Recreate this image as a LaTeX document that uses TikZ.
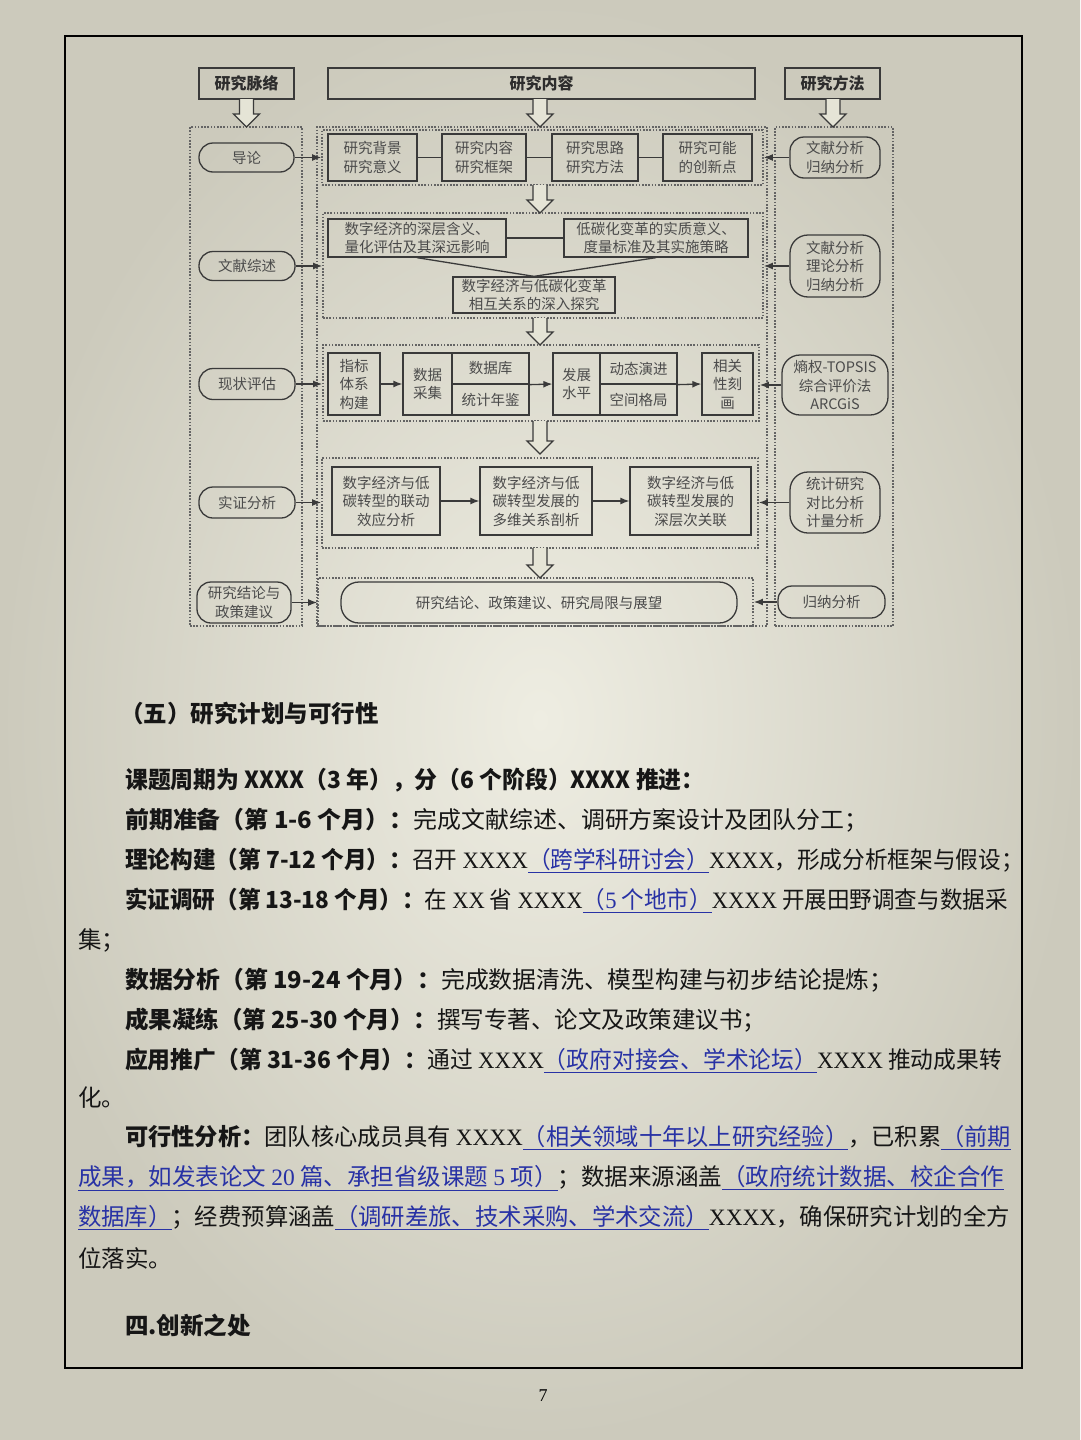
\documentclass[tikz,border=0pt]{standalone}
\usepackage{fontspec}
\usepackage{graphicx}
\setmainfont{Noto Sans CJK SC}
\newfontfamily\lat{Liberation Serif}
\usetikzlibrary{arrows.meta}
\definecolor{pagebg}{RGB}{229,228,214}
\definecolor{pagein}{RGB}{238,237,226}
\definecolor{pageout}{RGB}{204,202,188}
\definecolor{ink}{RGB}{58,58,58}
\definecolor{txtg}{RGB}{75,75,75}
\definecolor{dotc}{RGB}{100,100,100}
\definecolor{linkblue}{RGB}{40,50,165}
\definecolor{bodyc}{RGB}{22,22,22}
\newcommand\ulb[1]{\textcolor{linkblue}{\underline{#1}}}
\newcommand\lx[1]{{\lat #1}}
\newcommand\sx[2]{\scalebox{#1}[1]{#2}}
\begin{document}
\begin{tikzpicture}[x=1pt,y=-1pt,
  box/.style={draw=ink, line width=1.3pt, inner sep=1pt, align=center, text=txtg, font=\fontsize{14.5}{18.5}\selectfont},
  rnd/.style={box, rounded corners=14pt},
  hdr/.style={draw=ink, line width=1.5pt, inner sep=1pt, align=center, text={rgb,255:red,45;green,45;blue,45}, font=\bfseries\fontsize{16}{19}\selectfont},
  grp/.style={draw=dotc, line width=1.8pt, dash pattern=on 1.6pt off 1.6pt, inner sep=0pt},
  conn/.style={draw=ink, line width=1.3pt},
  arr/.style={conn, -{Latex[length=9pt,width=7pt]}},
  hollow/.style={draw=ink, line width=1.3pt, fill=pagebg},
  pics/harrow/.style={code={\draw[hollow] (-7,0) -- (-7,#1-13) -- (-13,#1-13) -- (0,#1) -- (13,#1-13) -- (7,#1-13) -- (7,0);}},
  bodyline/.style={anchor=west, inner sep=0pt, text=bodyc, font=\fontsize{23.5}{28}\selectfont}
]
\useasboundingbox (0,0) rectangle (1080,1440);
\shade[inner color=pagein, outer color=pageout] (0,0) rectangle (1080,1440);
\draw[line width=2pt, draw=black] (65,36) rectangle (1022,1368);

% headers
\node[hdr, minimum width=95, minimum height=31] (hL) at (246.5,83.5) {研究脉络};
\node[hdr, minimum width=427, minimum height=31] (hM) at (541.5,83.5) {研究内容};
\node[hdr, minimum width=95, minimum height=31] (hR) at (832.5,83.5) {研究方法};

% containers
\node[grp, minimum width=112, minimum height=499] (colL) at (246,376.5) {};
\node[grp, minimum width=450, minimum height=499] (midc) at (542,376.5) {};
\node[grp, minimum width=118, minimum height=499] (colR) at (834,376.5) {};
\node[grp, minimum width=441, minimum height=55] (g1) at (542.5,157.5) {};
\node[grp, minimum width=440, minimum height=105] (g2) at (543,265.5) {};
\node[grp, minimum width=436, minimum height=76] (g3) at (541,383) {};
\node[grp, minimum width=436, minimum height=90] (g4) at (540,503) {};
\node[grp, minimum width=435, minimum height=48] (g5) at (535.5,602) {};

% hollow arrows
\pic at (246.5,99) {harrow=28};
\pic at (540,99) {harrow=28};
\pic at (833,99) {harrow=28};
\pic at (540,185) {harrow=28};
\pic at (540,318) {harrow=27};
\pic at (540,421) {harrow=33};
\pic at (540,548) {harrow=30};

% row 1
\node[box, minimum width=89, minimum height=47] (r1a) at (372.5,157.5) {研究背景\\研究意义};
\node[box, minimum width=84, minimum height=47] (r1b) at (484,157.5) {研究内容\\研究框架};
\node[box, minimum width=86, minimum height=47] (r1c) at (595,157.5) {研究思路\\研究方法};
\node[box, minimum width=89, minimum height=47] (r1d) at (707.5,157.5) {研究可能\\的创新点};
\draw[conn] (r1a.east) -- (r1b.west);
\draw[conn] (r1b.east) -- (r1c.west);
\draw[conn] (r1c.east) -- (r1d.west);

% row 2
\node[box, minimum width=178, minimum height=38] (r2a) at (417,238) {数字经济的深层含义、\\量化评估及其深远影响};
\node[box, minimum width=184, minimum height=38] (r2b) at (656,238) {低碳化变革的实质意义、\\度量标准及其实施策略};
\node[box, minimum width=162, minimum height=36] (r2c) at (534,295) {数字经济与低碳化变革\\相互关系的深入探究};
\draw[conn] (r2a.east) -- (r2b.west);
\draw[conn] (r2a.south) -- (r2c.north);
\draw[conn] (r2b.south) -- (r2c.north);

% row 3
\node[box, minimum width=52, minimum height=62] (r3a) at (354,384) {指标\\体系\\构建};
\node[box, minimum width=49, minimum height=62] (r3b1) at (427.5,384) {数据\\采集};
\node[box, minimum width=77, minimum height=31] (r3b2) at (490.5,368.5) {数据库};
\node[box, minimum width=77, minimum height=31] (r3b3) at (490.5,399.5) {统计年鉴};
\node[box, minimum width=47, minimum height=62] (r3c1) at (576.5,384) {发展\\水平};
\node[box, minimum width=77, minimum height=31] (r3c2) at (638.5,368.5) {动态演进};
\node[box, minimum width=77, minimum height=31] (r3c3) at (638.5,399.5) {空间格局};
\node[box, minimum width=51, minimum height=62] (r3d) at (727.5,384) {相关\\性刻\\画};
\draw[arr] (r3a.east) -- (r3b1.west);
\draw[arr] (r3b2.south east) -- (r3c1.west);
\draw[arr] (r3c2.south east) -- (r3d.west);

% row 4
\node[box, minimum width=108, minimum height=68] (r4a) at (386,501) {数字经济与低\\碳转型的联动\\效应分析};
\node[box, minimum width=112, minimum height=68] (r4b) at (536,501) {数字经济与低\\碳转型发展的\\多维关系剖析};
\node[box, minimum width=121, minimum height=68] (r4c) at (690.5,501) {数字经济与低\\碳转型发展的\\深层次关联};
\draw[arr] (r4a.east) -- (r4b.west);
\draw[arr] (r4b.east) -- (r4c.west);

% row 5
\node[box, rounded corners=18pt, minimum width=396, minimum height=41] (r5) at (539,602.5) {研究结论、政策建议、研究局限与展望};

% left column
\node[rnd, minimum width=95, minimum height=29] (L1) at (246.5,157.5) {导论};
\node[rnd, minimum width=96, minimum height=29] (L2) at (247,266) {文献综述};
\node[rnd, minimum width=96, minimum height=31] (L3) at (247,384) {现状评估};
\node[rnd, minimum width=96, minimum height=31] (L4) at (247,502.5) {实证分析};
\node[rnd, minimum width=94, minimum height=41] (L5) at (244,602.5) {研究结论与\\政策建议};
\draw[arr] (L1.east) -- (L1.east -| g1.west);
\draw[arr] (L2.east) -- (L2.east -| g2.west);
\draw[arr] (L3.east) -- (L3.east -| g3.west);
\draw[arr] (L4.east) -- (L4.east -| g4.west);
\draw[arr] (L5.east) -- (L5.east -| g5.west);

% right column
\node[rnd, minimum width=90, minimum height=41] (R1) at (835,157.5) {文献分析\\归纳分析};
\node[rnd, rounded corners=18pt, minimum width=90, minimum height=62] (R2) at (835,266) {文献分析\\理论分析\\归纳分析};
\node[rnd, rounded corners=18pt, minimum width=106, minimum height=60] (R3) at (835,385) {熵权-TOPSIS\\综合评价法\\ARCGiS};
\node[rnd, rounded corners=18pt, minimum width=90, minimum height=61] (R4) at (835,502.5) {统计研究\\对比分析\\计量分析};
\node[rnd, minimum width=107, minimum height=32] (R5) at (831.5,602) {归纳分析};
\draw[arr] (R1.west) -- (R1.west -| g1.east);
\draw[arr] (R2.west) -- (R2.west -| g2.east);
\draw[arr] (R3.west) -- (R3.west -| g3.east);
\draw[arr] (R4.west) -- (R4.west -| g4.east);
\draw[arr] (R5.west) -- (R5.west -| g5.east);

% body text
\node[bodyline] (t0) at (120,714) {\bfseries （五）研究计划与可行性};
\node[bodyline] (t1) at (125,780) {\sx{0.971}{\bfseries 课题周期为 XXXX（3 年），分（6 个阶段）XXXX 推进：}};
\node[bodyline] (t2) at (125,820) {\sx{1.018}{{\bfseries 前期准备（第 1-6 个月）：}完成文献综述、调研方案设计及团队分工；}};
\node[bodyline] (t3) at (125,860) {\sx{0.964}{{\bfseries 理论构建（第 7-12 个月）：}召开 \lx{XXXX}\ulb{（跨学科研讨会）}\lx{XXXX}，形成分析框架与假设；}};
\node[bodyline] (t4) at (125,900) {\sx{0.960}{{\bfseries 实证调研（第 13-18 个月）：}在 \lx{XX} 省 \lx{XXXX}\ulb{（\lx{5} 个地市）}\lx{XXXX} 开展田野调查与数据采}};
\node[bodyline] (t5) at (78,940) {集；};
\node[bodyline] (t6) at (125,980) {\sx{1.013}{{\bfseries 数据分析（第 19-24 个月）：}完成数据清洗、模型构建与初步结论提炼；}};
\node[bodyline] (t7) at (125,1020) {{\bfseries 成果凝练（第 25-30 个月）：}撰写专著、论文及政策建议书；};
\node[bodyline] (t8) at (125,1060) {\sx{0.969}{{\bfseries 应用推广（第 31-36 个月）：}通过 \lx{XXXX}\ulb{（政府对接会、学术论坛）}\lx{XXXX} 推动成果转}};
\node[bodyline] (t9) at (78,1098) {化。};
\node[bodyline] (t10) at (125,1138) {\sx{0.989}{{\bfseries 可行性分析：}团队核心成员具有 \lx{XXXX}\ulb{（相关领域十年以上研究经验）}，已积累\ulb{（前期}}};
\node[bodyline] (t11) at (78,1178) {\ulb{成果，如发表论文 \lx{20} 篇、承担省级课题 \lx{5} 项）}；数据来源涵盖\ulb{（政府统计数据、校企合作}};
\node[bodyline] (t12) at (78,1218) {\sx{0.994}{\ulb{数据库）}；经费预算涵盖\ulb{（调研差旅、技术采购、学术交流）}\lx{XXXX}，确保研究计划的全方}};
\node[bodyline] (t13) at (78,1258) {位落实。};
\node[bodyline] (t14) at (125,1325) {\bfseries 四.创新之处};

\node[inner sep=0pt, text=black, font=\lat\fontsize{18}{20}\selectfont] (pg) at (543,1396) {7};
\end{tikzpicture}
\end{document}
